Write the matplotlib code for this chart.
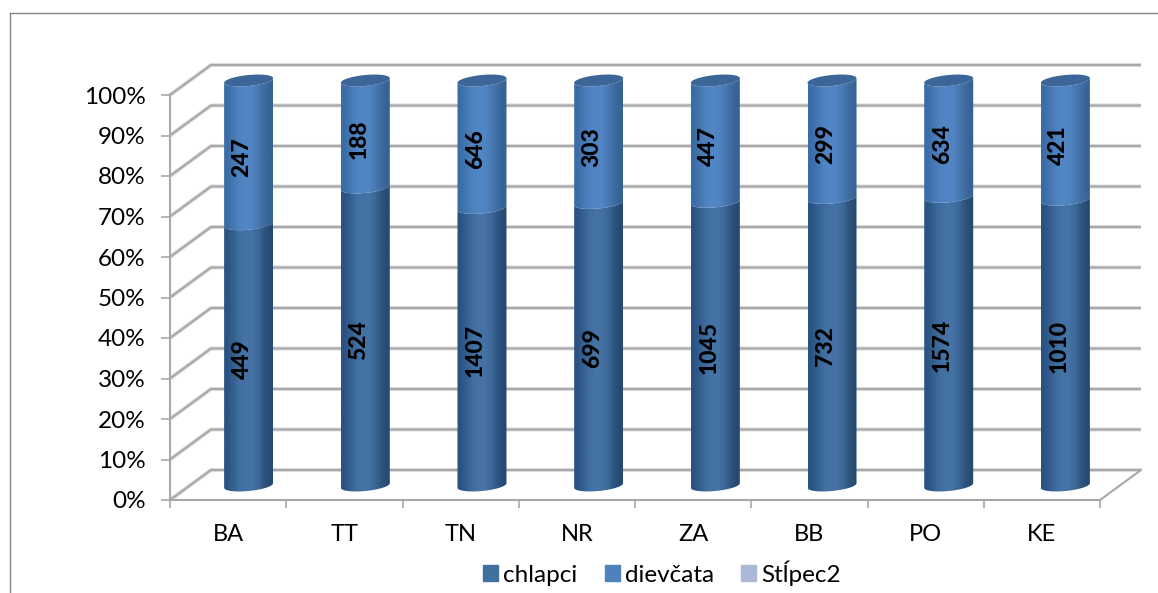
import numpy as np
import matplotlib
matplotlib.use("Agg")
import matplotlib.pyplot as plt
from matplotlib.lines import Line2D
from matplotlib.patches import Patch, Polygon
from matplotlib.colors import to_rgb

regions = ["BA", "TT", "TN", "NR", "ZA", "BB", "PO", "KE"]
chlapci = [449, 524, 1407, 699, 1045, 732, 1574, 1010]
dievcata = [247, 188, 646, 303, 447, 299, 634, 421]
y_ticks = [0, 10, 20, 30, 40, 50, 60, 70, 80, 90, 100]

plt.rcParams['font.family'] = ['Lato', 'DejaVu Sans']

W, H = 1158, 593
# front plane of the fake 3d box, in pixels
LEFT, RIGHT, BOTTOM, TOP = 170, 1100, 500, 95
PX = 8 / (RIGHT - LEFT)
PY = 100 / (BOTTOM - TOP)
DEPTH_X = 41 * PX
DEPTH_Y = 30 * PY

GRID = '#a8a8a8'
GRID_SOFT = '#dedede'
DARK = ['#2a5282', '#34608f', '#3f6d9f', '#4673a6', '#4572a5', '#3d6999', '#2f5681', '#264a72']
LIGHT = ['#3a6ca6', '#4577b2', '#4e82c0', '#5287c7', '#5084c3', '#497ab4', '#3f6da2', '#376394']
CAP = '#3c6698'

fig = plt.figure(figsize=(W / 100, H / 100), dpi=100)
ax = fig.add_axes([LEFT / W, 1 - BOTTOM / H, (RIGHT - LEFT) / W, (BOTTOM - TOP) / H])


def ramp(colors):
    return np.array([[to_rgb(c) for c in colors]])


def ellipse(cx, cy, t):
    # tilted ellipse, left side sits a little lower than the right
    a = 24.5 * PX
    b = 5.5 * PY
    tilt = 2.3 * PY
    return cx + a * np.cos(t), cy + b * np.sin(t) + tilt * np.cos(t)


def segment(cx, y0, y1, colors):
    low = np.linspace(np.pi, 2 * np.pi, 40)
    xa, ya = ellipse(cx, y0, low)
    xb, yb = ellipse(cx, y1, low[::-1])
    pts = np.column_stack([np.r_[xa, xb], np.r_[ya, yb]])
    a = 24.5 * PX
    im = ax.imshow(ramp(colors), extent=[cx - a, cx + a, y0 - 5, y1 + 5],
                   aspect='auto', interpolation='bilinear', zorder=3)
    clip = Polygon(pts, transform=ax.transData, fc='none', ec='none')
    ax.add_patch(clip)
    clip.set_clip_on(False)
    im.set_clip_path(clip)
    im.set_clip_box(fig.bbox)


# walls and floor
for v in y_ticks:
    xs = [0, DEPTH_X, 8 + DEPTH_X]
    ys = [v, v + DEPTH_Y, v + DEPTH_Y]
    ax.plot(xs, ys, color=GRID_SOFT, lw=3, clip_on=False, zorder=1, solid_capstyle='butt')
    ax.plot(xs, ys, color=GRID, lw=1.5, clip_on=False, zorder=2, solid_capstyle='butt')
ax.plot([8, 8 + DEPTH_X], [0, DEPTH_Y], color=GRID, lw=1.5, clip_on=False, zorder=2)

# cylinders
for i, (c, d) in enumerate(zip(chlapci, dievcata)):
    cx = i + 0.5 + (20.5 + i * 0.43) * PX
    base = 14.5 * PY
    share = c / (c + d) * 100
    segment(cx, base, base + share, DARK)
    segment(cx, base + share, base + 100, LIGHT)
    x, y = ellipse(cx, base + 100, np.linspace(0, 2 * np.pi, 80))
    ax.fill(x, y, color=CAP, zorder=4, lw=0, clip_on=False)
    tx = cx - 6.5 * PX
    ax.text(tx, base + share / 2 - 4 * PY, str(c), rotation=90, ha='center', va='center',
            fontsize=16.5, fontweight=900, color='black', zorder=5)
    ax.text(tx, base + share + (100 - share) / 2 - 5 * PY, str(d), rotation=90, ha='center',
            va='center', fontsize=16.5, fontweight=900, color='black', zorder=5)

ax.set_xlim(0, 8)
ax.set_ylim(0, 100)
ax.patch.set_visible(False)

for s in ['top', 'right']:
    ax.spines[s].set_visible(False)
for s in ['left', 'bottom']:
    ax.spines[s].set_color(GRID)
    ax.spines[s].set_linewidth(1.5)

ax.set_yticks(y_ticks)
ax.set_yticklabels([f"{v}%" for v in y_ticks], fontsize=17.5, color='black')
ax.set_xticks(range(9))
ax.set_xticklabels([])
ax.set_xticks(np.arange(8) + 0.5, minor=True)
ax.set_xticklabels(regions, minor=True, fontsize=17, color='black')
ax.tick_params(axis='y', length=6.5, width=1.2, color=GRID, pad=11)
ax.tick_params(axis='x', which='major', length=6, width=1.2, color=GRID)
ax.tick_params(axis='x', which='minor', length=0, pad=17)

handles = [Patch(color='#41709f'), Patch(color='#4f81bd'), Patch(color='#aab9d8')]
fig.legend(handles, ['chlapci', 'dievčata', 'Stĺpec2'], ncol=3, frameon=False, fontsize=17.5,
           loc='center', bbox_to_anchor=(662 / W, 1 - 573 / H), handlelength=0.62, handleheight=0.62,
           handletextpad=0.2, columnspacing=1.12, labelcolor='black',
           borderpad=0, borderaxespad=0)

# outer chart border
border = '#868686'
fig.add_artist(Line2D([10 / W, 1], [1 - 13 / H, 1 - 13 / H], color=border, lw=1))
fig.add_artist(Line2D([10 / W, 10 / W], [0, 1 - 13 / H], color=border, lw=1))

fig.savefig('out.png', dpi=100)
